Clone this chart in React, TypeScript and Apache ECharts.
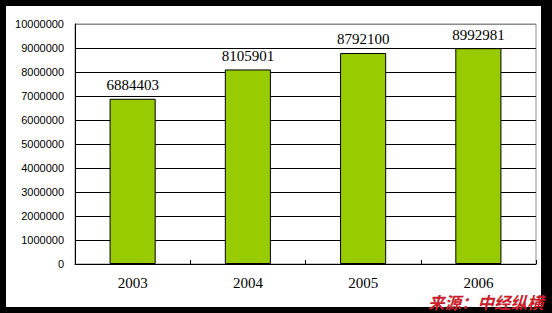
import React, { useEffect, useRef } from "react";
import * as echarts from "echarts";

const categories = ["2003", "2004", "2005", "2006"];
const values = [6884403, 8105901, 8792100, 8992981];
const yTicks = [0, 1000000, 2000000, 3000000, 4000000, 5000000, 6000000, 7000000, 8000000, 9000000, 10000000];
const sourceText = "来源：中经纵横";

export default function App() {
  const ref = useRef<HTMLDivElement>(null);
  useEffect(() => {
    document.body.style.margin = "0";
    const chart = echarts.init(ref.current!, undefined, { renderer: "svg" });
    const splitColors = yTicks.map((_, i) => (i === yTicks.length - 1 ? "#8c8c8c" : "#000"));
    chart.setOption({
      animation: false,
      backgroundColor: "#000",
      graphic: [
        { type: "rect", shape: { x: 6, y: 6, width: 535, height: 301 }, style: { fill: "#fff" }, z: -10 },
        {
          type: "text",
          x: 428,
          y: 301.5,
          z: 100,
          style: {
            text: sourceText,
            fill: "#c8202a",
            font: "italic bold 16.5px 'Noto Sans CJK SC'",
            lineHeight: 16,
            textVerticalAlign: "middle",
          },
        },
      ],
      grid: { left: 75, right: 16, top: 24, bottom: 49, show: true, borderColor: "#8c8c8c", borderWidth: 1, backgroundColor: "#fff" },
      xAxis: {
        type: "category",
        data: categories,
        axisLine: { lineStyle: { color: "#000", width: 1 } },
        axisTick: { show: true, inside: true, length: 4, lineStyle: { color: "#000" } },
        axisLabel: { color: "#000", fontFamily: "Liberation Serif", fontSize: 15, lineHeight: 15, margin: 11 },
      },
      yAxis: {
        type: "value",
        min: 0,
        max: 10000000,
        interval: 1000000,
        axisLine: { show: true, lineStyle: { color: "#000", width: 1 } },
        axisTick: { show: false },
        axisLabel: {
          color: "#000",
          fontFamily: "Liberation Sans",
          fontSize: 11,
          margin: 11,
          formatter: (v: number) => String(v),
        },
        splitLine: { show: true, lineStyle: { color: splitColors, width: 1 } },
      },
      series: [
        {
          type: "bar",
          data: values,
          barWidth: "40%",
          itemStyle: { color: "#99cc00", borderColor: "#000", borderWidth: 1 },
          label: {
            show: true,
            position: "top",
            distance: 6,
            color: "#000",
            fontFamily: "Liberation Serif",
            fontSize: 15,
          },
        },
      ],
    });
    return () => chart.dispose();
  }, []);
  return <div ref={ref} style={{ width: 552, height: 313 }} />;
}
